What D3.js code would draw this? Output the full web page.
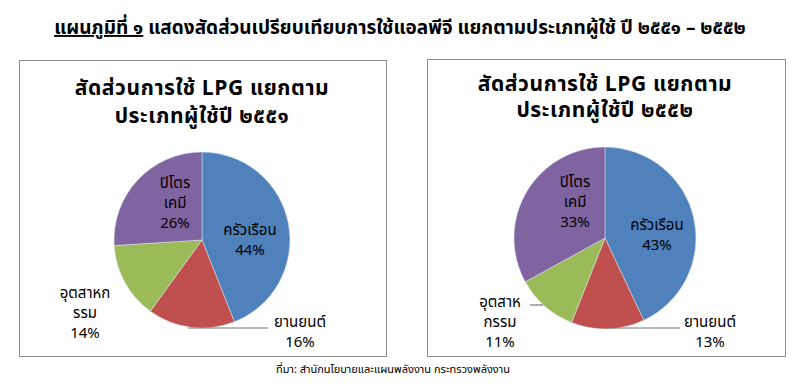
<!DOCTYPE html>
<html><head><meta charset="utf-8">
<script src="https://cdn.jsdelivr.net/npm/d3@7"></script>
<style>body{margin:0;background:#fff}svg{display:block}</style>
</head><body>
<script>
const categories = ["ครัวเรือน", "ยานยนต์", "อุตสาหกรรม", "ปิโตรเคมี"];
const labelLines = [["ครัวเรือน"], ["ยานยนต์"], ["อุตสาหก", "รรม"], ["ปิโตร", "เคมี"]];
const labelLines2 = [["ครัวเรือน"], ["ยานยนต์"], ["อุตสาห", "กรรม"], ["ปิโตร", "เคมี"]];
const values2551 = [44, 16, 14, 26];
const values2552 = [43, 13, 11, 33];
const colors = ["#4F81BD", "#C0504D", "#9BBB59", "#8064A2"];
const chartTitles = [["สัดส่วนการใช้ LPG แยกตาม", "ประเภทผู้ใช้ปี ๒๕๕๑"], ["สัดส่วนการใช้ LPG แยกตาม", "ประเภทผู้ใช้ปี ๒๕๕๒"]];

const W = 800, H = 386;
const svg = d3.select("body").append("svg").attr("width", W).attr("height", H);
const thaiFont = "Tahoma, 'Noto Sans Thai', 'Noto Sans', sans-serif";

// main title
const t = svg.append("text").attr("x", 400).attr("y", 34).attr("text-anchor", "middle")
  .attr("font-family", "'Noto Sans Thai', 'Noto Sans', sans-serif").attr("font-size", 19).attr("font-weight", "bold").attr("fill", "#000");
t.append("tspan").attr("text-decoration", "underline").text("แผนภูมิที่ ๑");
t.append("tspan").text(" แสดงสัดส่วนเปรียบเทียบการใช้แอลพีจี แยกตามประเภทผู้ใช้ ปี ๒๕๕๑ – ๒๕๕๒");

const color = d3.scaleOrdinal().domain(categories).range(colors);

const panels = [
  {x0: 19, x1: 386, y0: 60, y1: 356, cx: 202, cy: 240, r: 88, vals: values2551, lines: labelLines, title: chartTitles[0], tx: 202, ty: 95, tgap: 28,
   labels: [
     {x: 250, y: 230},
     {x: 300, y: 322, leader: [[188, 328], [268, 328]]},
     {x: 85, y: 293},
     {x: 175, y: 183}
   ]},
  {x0: 427, x1: 785, y0: 59, y1: 356, cx: 605, cy: 238, r: 91, vals: values2552, lines: labelLines2, title: chartTitles[1], tx: 605, ty: 91, tgap: 26,
   labels: [
     {x: 657, y: 225},
     {x: 710, y: 322, leader: [[610, 328], [680, 328]]},
     {x: 500, y: 302, leader: [[530, 305], [543, 305]]},
     {x: 575, y: 182}
   ]}
];

panels.forEach(p => {
  svg.append("rect").attr("x", p.x0 + 0.5).attr("y", p.y0 + 0.5).attr("width", p.x1 - p.x0).attr("height", p.y1 - p.y0)
    .attr("fill", "#fff").attr("stroke", "#8c8c8c").attr("stroke-width", 1);
  // chart title
  const tt = svg.append("text").attr("x", p.tx).attr("y", p.ty).attr("text-anchor", "middle")
    .attr("font-family", thaiFont).attr("font-size", 21).attr("font-weight", "bold").attr("letter-spacing", 0.6).attr("fill", "#000");
  p.title.forEach((line, i) => {
    tt.append("tspan").attr("x", p.tx).attr("dy", i === 0 ? 0 : p.tgap).text(line);
  });
  const pie = d3.pie().sort(null).value(d => d.v);
  const data = pie(p.vals.map((v, i) => ({v, c: categories[i], i})));
  const arc = d3.arc().innerRadius(0).outerRadius(p.r);
  const g = svg.append("g").attr("transform", `translate(${p.cx},${p.cy})`);
  g.selectAll("path").data(data).join("path").attr("d", arc)
    .attr("fill", d => color(d.data.c)).attr("stroke", "#dfe6ee").attr("stroke-width", 0.5);
  // labels
  data.forEach((d, i) => {
    const L = p.labels[i];
    if (L.leader) {
      svg.append("line").attr("x1", L.leader[0][0]).attr("y1", L.leader[0][1]).attr("x2", L.leader[1][0]).attr("y2", L.leader[1][1])
        .attr("stroke", "#777").attr("stroke-width", 1.2);
    }
    const lines = p.lines[i].concat([d3.format(".0f")(d.data.v) + "%"]);
    const txt = svg.append("text").attr("x", L.x).attr("y", L.y).attr("text-anchor", "middle")
      .attr("font-family", thaiFont).attr("font-size", 15).attr("fill", "#000");
    lines.forEach((ln, k) => {
      txt.append("tspan").attr("x", L.x).attr("y", L.y + k * 20).attr("dy", "0.35em").text(ln);
    });
  });
});

svg.append("text").attr("x", 393).attr("y", 369).attr("dy", "0.35em").attr("text-anchor", "middle")
  .attr("font-family", thaiFont).attr("font-size", 11).attr("fill", "#000").text("ที่มา: สำนักนโยบายและแผนพลังงาน กระทรวงพลังงาน");
</script>
</body></html>
